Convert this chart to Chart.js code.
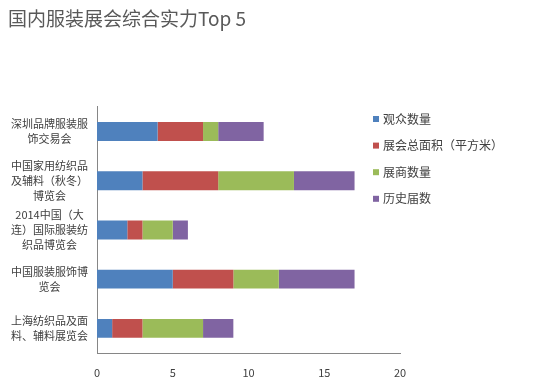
<!DOCTYPE html>
<html>
<head>
<meta charset="utf-8">
<script src="https://cdn.jsdelivr.net/npm/chart.js@4"></script>
<style>
  html, body { margin: 0; padding: 0; background: #fff; }
  #wrap { width: 554px; height: 387px; }
</style>
</head>
<body>
<div id="wrap"><canvas id="myChart" width="554" height="387"></canvas></div>
<script>
const categories = [
  ['深圳品牌服装服', '饰交易会'],
  ['中国家用纺织品', '及辅料（秋冬）', '博览会'],
  ['2014中国（大', '连）国际服装纺', '织品博览会'],
  ['中国服装服饰博', '览会'],
  ['上海纺织品及面', '料、辅料展览会']
]
const seriesNames = ['观众数量', '展会总面积（平方米）', '展商数量', '历史届数']
const audience = [4, 3, 2, 5, 1]
const area = [3, 5, 1, 4, 2]
const exhibitors = [1, 5, 2, 3, 4]
const editions = [3, 4, 1, 5, 2]
const colors = ['#4F81BD', '#C0504D', '#9BBB59', '#8064A2']
const xTicks = [0, 5, 10, 15, 20]

const font = '"Noto Sans CJK SC", "Noto Sans", sans-serif'

const datasets = [audience, area, exhibitors, editions].map((vals, i) => ({
  label: seriesNames[i],
  data: vals,
  backgroundColor: colors[i],
  barPercentage: 0.385,
  categoryPercentage: 1
}))

// legend drawn by hand so it sits where the original one is
const sideLegend = {
  id: 'sideLegend',
  afterDraw(chart) {
    const ctx = chart.ctx
    ctx.save()
    ctx.font = '12px ' + font
    ctx.textBaseline = 'middle'
    chart.data.datasets.forEach((ds, i) => {
      const y = 119 + i * 26.6
      ctx.fillStyle = ds.backgroundColor
      ctx.fillRect(373, y - 3, 6, 6)
      ctx.fillStyle = '#404040'
      ctx.fillText(ds.label, 383, y)
    })
    ctx.restore()
  }
}

const ctx = document.getElementById('myChart')
new Chart(ctx, {
  type: 'bar',
  data: { labels: categories, datasets: datasets },
  options: {
    indexAxis: 'y',
    responsive: false,
    animation: false,
    layout: { padding: { left: 8, right: 154, top: 0, bottom: 0 } },
    plugins: {
      legend: { display: false },
      tooltip: { enabled: false },
      title: {
        display: true,
        text: '国内服装展会综合实力Top 5',
        align: 'start',
        color: '#595959',
        font: { family: font, size: 19, weight: 'normal' },
        padding: { top: 7, bottom: 77 }
      }
    },
    scales: {
      x: {
        stacked: true,
        min: 0,
        max: 20,
        afterBuildTicks: axis => { axis.ticks = xTicks.map(v => ({ value: v })) },
        afterFit: axis => { axis.height = 34 },
        grid: { display: false, drawTicks: false },
        border: { display: true, color: '#868686' },
        ticks: { color: '#404040', padding: 13, font: { family: font, size: 11 } }
      },
      y: {
        stacked: true,
        afterFit: axis => { axis.width = 89 },
        grid: { display: false, drawTicks: false },
        border: { display: true, color: '#868686' },
        ticks: {
          autoSkip: false,
          color: '#404040',
          crossAlign: 'center',
          padding: 9,
          font: { family: font, size: 11, lineHeight: 1.36 }
        }
      }
    }
  },
  plugins: [sideLegend]
})
</script>
</body>
</html>
